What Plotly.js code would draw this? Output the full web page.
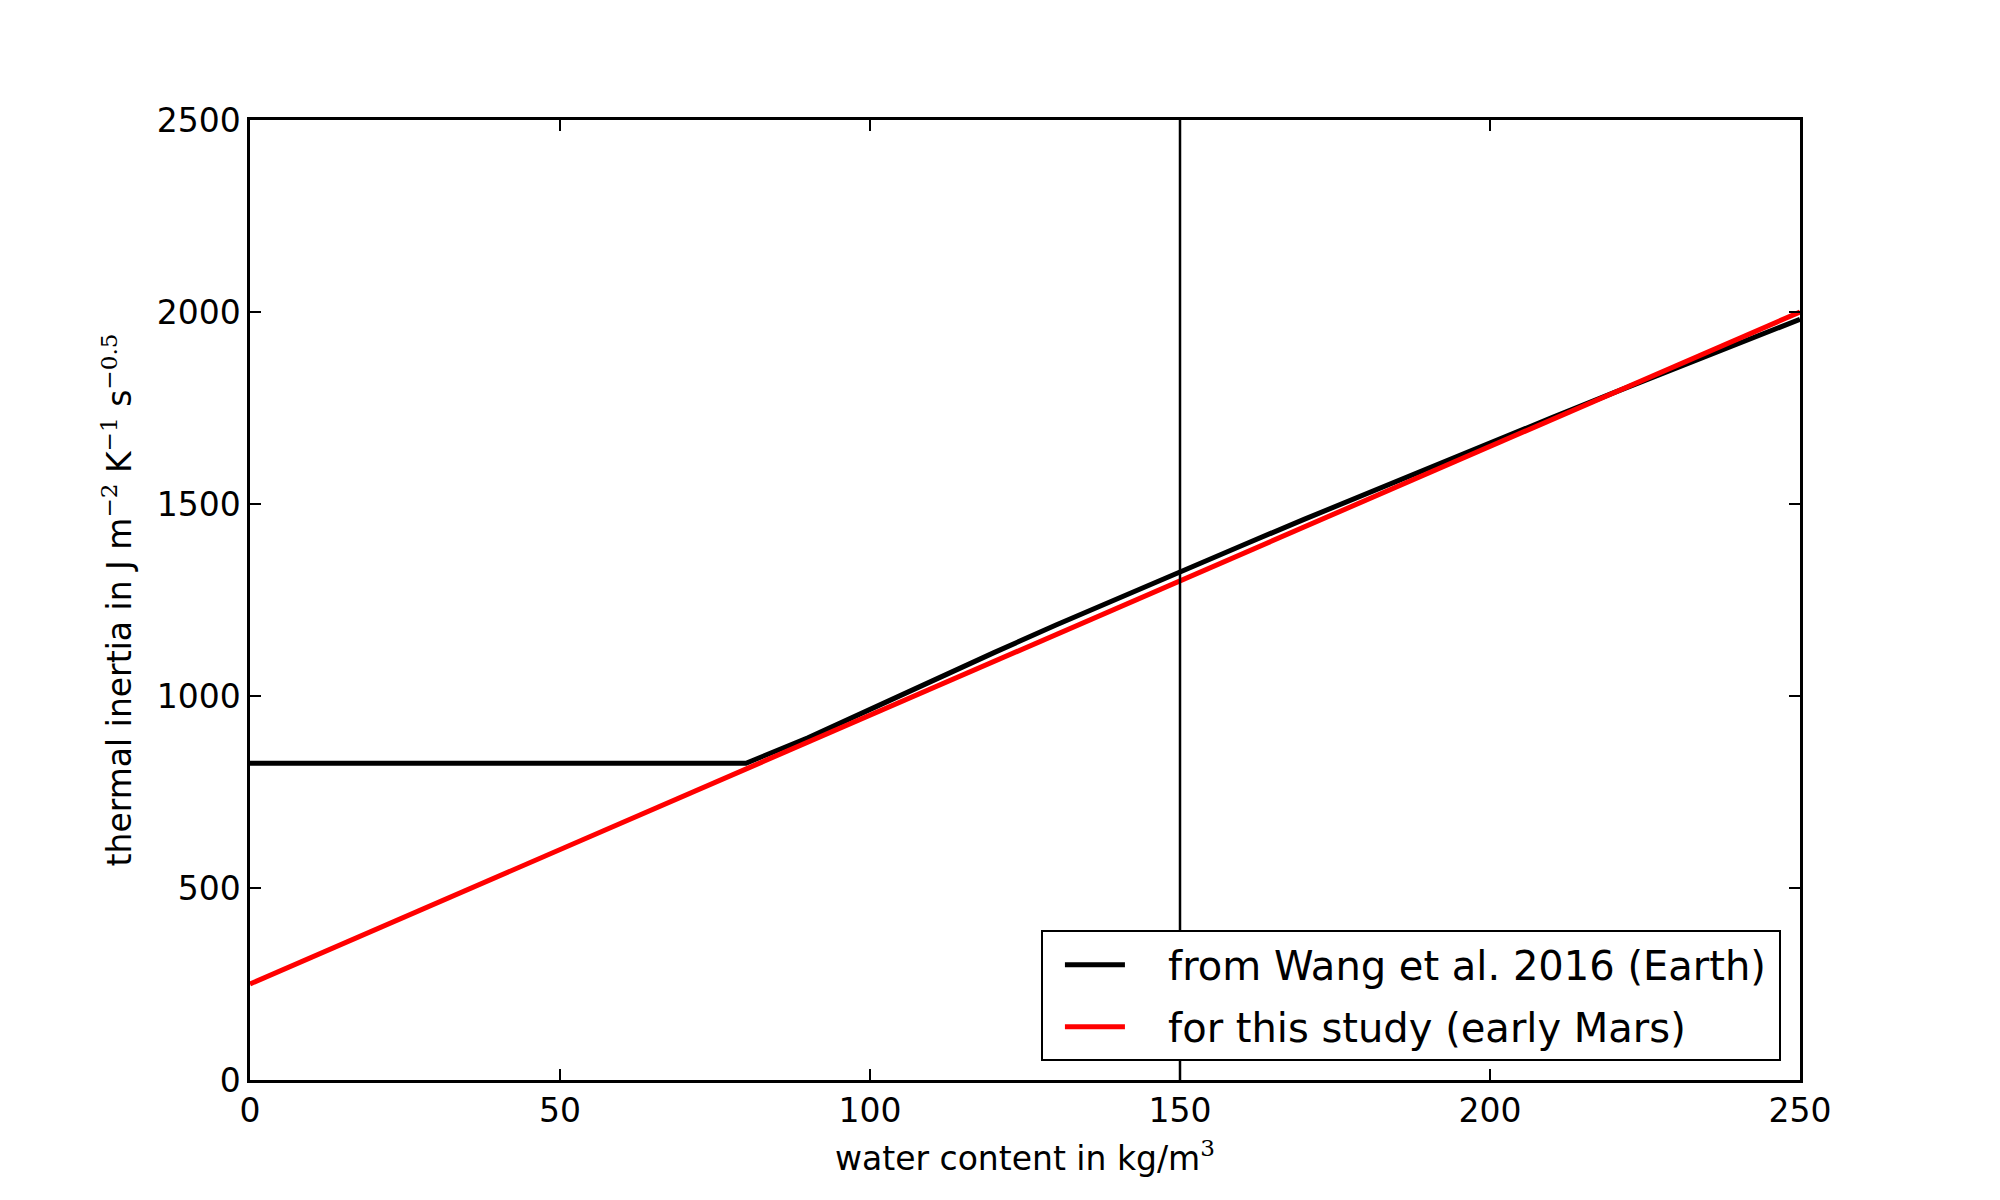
<!DOCTYPE html>
<html>
<head>
<meta charset="utf-8">
<script src="https://cdn.plot.ly/plotly-3.0.1.min.js"></script>
<style>
  html, body { margin: 0; padding: 0; background: #fff; }
  #chart { width: 2000px; height: 1200px; }
</style>
</head>
<body>
<div id="chart"></div>
<script>
// water content (kg/m^3) and thermal inertia values
const wangX = [0, 80, 90, 100, 110, 120, 130, 140, 150, 160, 170, 180, 190, 200, 210, 220, 230, 240, 250];
const wangY = [825, 825, 891, 966, 1040, 1113, 1185, 1255, 1324, 1392, 1460, 1527, 1594, 1660, 1725, 1790, 1854, 1918, 1981];

const marsX = [0, 250];
const marsY = [250, 2000];

// vertical marker
const markX = [150, 150];
const markY = [0, 2500];

const xTicks = [0, 50, 100, 150, 200, 250];
const yTicks = [0, 500, 1000, 1500, 2000, 2500];

const font = "DejaVu Sans, sans-serif";
const sup = s => `<sup><span style="font-family:'DejaVu Serif'">${s}</span></sup>`;
const pad = '\u00a0\u00a0\u00a0';
const tail = '\u2009';

const data = [
  {
    x: wangX, y: wangY, type: 'scatter', mode: 'lines',
    name: pad + 'from Wang et al. 2016 (Earth)' + tail, legendgroup: 'wang',
    line: { color: '#000000', width: 5 }
  },
  {
    x: marsX, y: marsY, type: 'scatter', mode: 'lines',
    name: pad + 'for this study (early Mars)' + tail, legendgroup: 'mars',
    line: { color: '#ff0000', width: 5 }
  },
  {
    x: markX, y: markY, type: 'scatter', mode: 'lines',
    showlegend: false, hoverinfo: 'skip',
    line: { color: '#000000', width: 2.5 }
  }
];

const axisCommon = {
  showline: true, linecolor: '#000', linewidth: 2.7, mirror: 'allticks',
  ticks: 'inside', ticklen: 11, tickwidth: 1.5, tickcolor: '#000',
  showgrid: false, zeroline: false,
  tickfont: { family: font, size: 33, color: '#000' }
};

const layout = {
  width: 2000, height: 1200,
  margin: { l: 250, r: 200, t: 120, b: 120 },
  paper_bgcolor: '#fff', plot_bgcolor: '#fff',
  font: { family: font, color: '#000' },
  showlegend: true,
  xaxis: Object.assign({}, axisCommon, {
    range: [0, 250], tickvals: xTicks, ticktext: xTicks.map(String),
    title: { text: 'water content in kg/m' + sup('3'), font: { family: font, size: 33 }, standoff: 18 }
  }),
  yaxis: Object.assign({}, axisCommon, {
    range: [0, 2500], tickvals: yTicks, ticktext: yTicks.map(String),
    title: {
      text: 'thermal inertia in J m' + sup('−2') + ' K' + sup('−1') + ' s' + sup('−0.5'),
      font: { family: font, size: 33 }, standoff: 16
    }
  }),
  legend: {
    x: 0.9877, y: 0.0195, xanchor: 'right', yanchor: 'bottom',
    bgcolor: '#fff', bordercolor: '#000', borderwidth: 2,
    font: { family: font, size: 40, color: '#000' },
    itemwidth: 60, indentation: 17,
    traceorder: 'grouped', tracegroupgap: 7
  }
};

Plotly.newPlot('chart', data, layout, { responsive: false, displayModeBar: false, staticPlot: true });
</script>
</body>
</html>
